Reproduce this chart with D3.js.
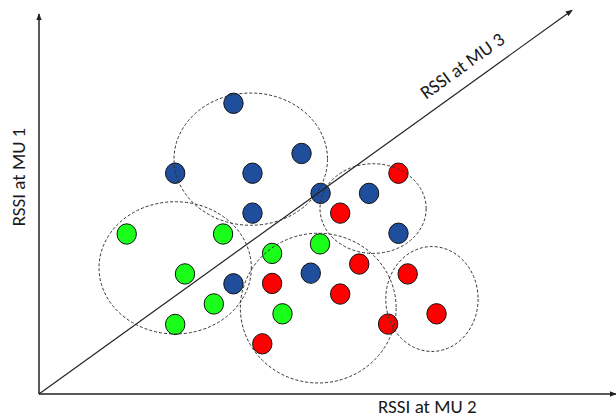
<!DOCTYPE html>
<html>
<head>
<meta charset="utf-8">
<script src="https://cdn.jsdelivr.net/npm/d3@7"></script>
<style>
  html, body { margin: 0; padding: 0; background: #fff; }
  svg { display: block; }
  text { font-family: Carlito, Lato, "Open Sans", sans-serif; fill: #1a1a1a; }
</style>
</head>
<body>
<svg id="chart" width="616" height="419"></svg>
<script>
// ---- data (values in arbitrary RSSI units, 0-100) ----
const blueX  = [33.7, 23.6, 37.0, 45.5, 48.8, 37.0, 57.2, 62.3, 33.7, 47.1];
const blueY  = [76.5, 58.1, 58.1, 63.3, 52.8, 47.6, 52.8, 42.3, 29.0, 31.8];
const greenX = [15.2, 31.9, 40.4, 48.7, 25.3, 30.3, 23.6, 42.2];
const greenY = [42.1, 42.1, 37.0, 39.5, 31.6, 23.7, 18.3, 21.1];
const redX   = [62.3, 52.2, 55.5, 63.9, 40.4, 52.2, 60.5, 68.9, 38.7];
const redY   = [58.1, 47.6, 34.2, 31.6, 29.1, 26.3, 18.4, 21.1, 13.2];
const seriesNames  = ["MU 1", "MU 2", "MU 3"];
const seriesColors = ["#1f4e9c", "#19ff19", "#ff0000"];

// cluster ellipses: centre x, centre y, half-width, half-height (data units)
const clusterCX = [36.7, 23.6, 48.4, 57.9, 68.1];
const clusterCY = [61.8, 33.2, 22.6, 48.8, 25.0];
const clusterRX = [13.3, 13.2, 13.5, 9.2, 8.0];
const clusterRY = [17.4, 17.4, 19.7, 11.8, 13.8];

const axisLabels = ["RSSI at MU 2", "RSSI at MU 1", "RSSI at MU 3"];
const axisEnds = { x: 100, y: 100, diagX: 92.4, diagY: 101.0 };

// ---- scales ----
const x = d3.scaleLinear().domain([0, 100]).range([39, 616]);
const y = d3.scaleLinear().domain([0, 100]).range([394, 14]);

const svg = d3.select("#chart");

const defs = svg.append("defs");
defs.append("marker")
  .attr("id", "arrow").attr("viewBox", "0 0 10 10")
  .attr("refX", 9).attr("refY", 5)
  .attr("markerWidth", 7).attr("markerHeight", 7)
  .attr("markerUnits", "userSpaceOnUse")
  .attr("orient", "auto")
  .append("path").attr("d", "M0,1 L10,5 L0,9 Z").attr("fill", "#222");

// ---- points ----
const points = [];
[[blueX, blueY], [greenX, greenY], [redX, redY]].forEach(([xs, ys], s) => {
  xs.forEach((v, i) => points.push({ x: v, y: ys[i], s }));
});

svg.append("g").selectAll("ellipse").data(points).join("ellipse")
  .attr("cx", d => x(d.x)).attr("cy", d => y(d.y))
  .attr("rx", 9.7).attr("ry", 10.2)
  .attr("fill", d => seriesColors[d.s])
  .attr("stroke", "#111").attr("stroke-width", 1);

// ---- clusters ----
const clusters = clusterCX.map((cx, i) => ({ cx, cy: clusterCY[i], rx: clusterRX[i], ry: clusterRY[i] }));
svg.append("g").selectAll("ellipse").data(clusters).join("ellipse")
  .attr("cx", d => x(d.cx)).attr("cy", d => y(d.cy))
  .attr("rx", d => x(d.rx) - x(0)).attr("ry", d => y(0) - y(d.ry))
  .attr("fill", "none").attr("stroke", "#333")
  .attr("stroke-width", 1).attr("stroke-dasharray", "3,2");

// ---- axes ----
const axes = svg.append("g").attr("stroke", "#222").attr("fill", "none");
axes.append("line")
  .attr("x1", x(0)).attr("y1", y(0)).attr("x2", x(axisEnds.x)).attr("y2", y(0))
  .attr("stroke-width", 1.5).attr("marker-end", "url(#arrow)");
axes.append("line")
  .attr("x1", x(0)).attr("y1", y(0)).attr("x2", x(0)).attr("y2", y(axisEnds.y))
  .attr("stroke-width", 1.5).attr("marker-end", "url(#arrow)");
axes.append("line")
  .attr("x1", x(0)).attr("y1", y(0)).attr("x2", x(axisEnds.diagX)).attr("y2", y(axisEnds.diagY))
  .attr("stroke-width", 1.2).attr("marker-end", "url(#arrow)");

// ---- labels ----
svg.append("text").attr("x", x(67.3)).attr("y", 413)
  .attr("text-anchor", "middle").attr("font-size", 19).text(axisLabels[0]);

svg.append("text")
  .attr("transform", `translate(25,${y(57.1)}) rotate(-90)`)
  .attr("text-anchor", "middle").attr("font-size", 19).text(axisLabels[1]);

const ang = Math.atan2(y(axisEnds.diagY) - y(0), x(axisEnds.diagX) - x(0)) * 180 / Math.PI;
svg.append("text")
  .attr("transform", `translate(${x(74.0)},${y(85.0)}) rotate(${ang})`)
  .attr("text-anchor", "middle").attr("font-size", 19).text(axisLabels[2]);
</script>
</body>
</html>
